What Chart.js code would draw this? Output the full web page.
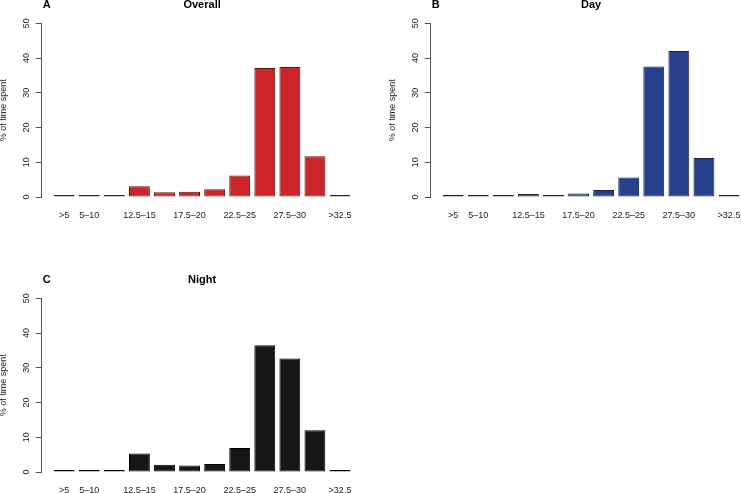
<!DOCTYPE html>
<html>
<head>
<meta charset="utf-8">
<script src="https://cdn.jsdelivr.net/npm/chart.js@4/dist/chart.umd.min.js"></script>
<style>
  body { margin: 0; background: #fff; overflow: hidden; width: 741px; height: 493px; position: relative; }
  .panel { position: absolute; width: 370px; height: 230px; }
</style>
</head>
<body>
<div class="panel" style="left:0px; top:-3px;"><canvas id="overall"></canvas></div>
<div class="panel" style="left:389px; top:-3px;"><canvas id="day"></canvas></div>
<div class="panel" style="left:0px; top:272px;"><canvas id="night"></canvas></div>
<script>
// temperature classes (deg C)
var categories = ['>5', '5–10', '10–12.5', '12.5–15', '15–17.5', '17.5–20', '20–22.5', '22.5–25', '25–27.5', '27.5–30', '30–32.5', '>32.5'];
// R only printed every other label
var tickLabels = ['>5', '5–10', '', '12.5–15', '', '17.5–20', '', '22.5–25', '', '27.5–30', '', '>32.5'];

// % of time spent
var overall = [0.1, 0.1, 0.2, 3.1, 1.4, 1.5, 2.2, 6.2, 37.1, 37.4, 11.7, 0.3];
var day = [0.05, 0.05, 0.1, 0.85, 0.6, 1.0, 2.0, 5.6, 37.6, 42.0, 11.25, 0.3];
var night = [0.1, 0.1, 0.3, 5.3, 2.1, 1.9, 2.3, 6.9, 36.5, 32.7, 12.0, 0.3];

var yTicks = [0, 10, 20, 30, 40, 50];

Chart.defaults.font.family = "'Liberation Sans', Arial, sans-serif";
Chart.defaults.color = '#222';

// panel letter (A, B, C) on the title line
const panelLetter = {
  id: 'panelLetter',
  afterDraw(chart, args, opts) {
    const ctx = chart.ctx;
    const tb = chart.titleBlock;
    ctx.save();
    ctx.font = 'bold 11px "Liberation Sans", Arial, sans-serif';
    ctx.fillStyle = '#000';
    ctx.textBaseline = 'middle';
    ctx.textAlign = 'left';
    ctx.fillText(opts.text, chart.chartArea.left + 1, tb.top + tb.options.padding.top + 7);
    ctx.restore();
  }
};

function makePanel(id, letter, title, values, fill, edge) {
  const ctx = document.getElementById(id).getContext('2d');
  return new Chart(ctx, {
    type: 'bar',
    data: {
      labels: categories,
      datasets: [{
        data: values.map((v, i) => ({ x: i, y: v })),
        backgroundColor: fill,
        borderColor: edge,
        borderWidth: 1,
        borderSkipped: false,
        minBarLength: 2,
        categoryPercentage: 1,
        barPercentage: 0.833
      }]
    },
    options: {
      responsive: true,
      maintainAspectRatio: false,
      animation: false,
      layout: { padding: { left: 0, right: 7.5, top: 0, bottom: 0 } },
      plugins: {
        legend: { display: false },
        tooltip: { enabled: false },
        title: {
          display: true,
          text: title,
          fullSize: false,
          color: '#000',
          font: { size: 11, weight: 'bold' },
          padding: { top: 1, bottom: 12.1 }
        },
        panelLetter: { text: letter }
      },
      scales: {
        x: {
          type: 'linear',
          offset: false,
          min: -0.8976,
          max: categories.length - 1 + 0.8976,
          grid: { display: false, drawTicks: false },
          border: { display: false },
          afterBuildTicks: s => { s.ticks = categories.map((c, i) => ({ value: i })); },
          afterFit: s => { s.height = 30; s.paddingLeft = 0; s.paddingRight = 0; },
          ticks: {
            autoSkip: false,
            maxRotation: 0,
            padding: 13,
            font: { size: 9 },
            color: '#222',
            callback: v => tickLabels[v]
          }
        },
        y: {
          min: 0,
          max: 50,
          afterBuildTicks: s => { s.ticks = yTicks.map(v => ({ value: v })); },
          afterFit: s => { s.width = 41.7; },
          grid: { drawOnChartArea: false, drawTicks: true, tickLength: 6, color: '#555' },
          border: { display: true, color: '#555', width: 1 },
          title: {
            display: true,
            text: '% of time spent',
            font: { size: 9 },
            color: '#222',
            padding: { top: -1.5, bottom: 0 }
          },
          ticks: {
            minRotation: 90,
            maxRotation: 90,
            crossAlign: 'center',
            padding: 4,
            font: { size: 9 },
            color: '#222'
          }
        }
      }
    },
    plugins: [panelLetter]
  });
}

makePanel('overall', 'A', 'Overall', overall, '#cc2529', '#5c1416');
makePanel('day', 'B', 'Day', day, '#26408c', '#121e45');
makePanel('night', 'C', 'Night', night, '#161616', '#000000');
</script>
</body>
</html>
